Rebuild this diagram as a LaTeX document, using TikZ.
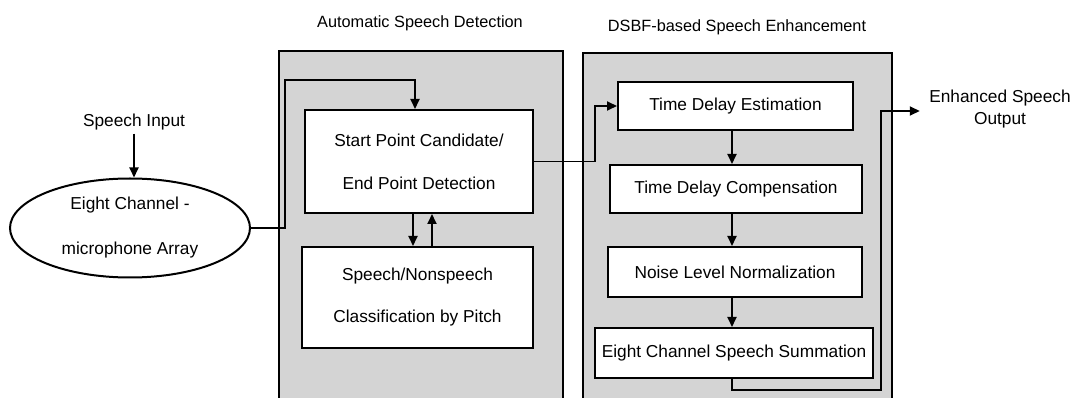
\documentclass[tikz,border=0pt]{standalone}
\usepackage{fontspec}
\setmainfont{Liberation Sans}
\usetikzlibrary{arrows.meta,shapes.geometric}
\begin{document}
\begin{tikzpicture}[x=1pt,y=-1pt,
  panel/.style={draw=black,line width=2pt,fill=black!17,inner sep=0pt,anchor=north west},
  blk/.style={draw=black,line width=2pt,fill=white,inner sep=0pt,align=center,font=\fontsize{17.3}{19}\selectfont},
  txt/.style={align=center,font=\fontsize{17.3}{22}\selectfont},
  ttl/.style={font=\fontsize{16.3}{18}\selectfont},
  conn/.style={line width=1.8pt,-{Triangle[length=10pt,width=9pt]}},
  wire/.style={line width=1.8pt}]
\clip (0,0) rectangle (1077,398);
\fill[white] (0,0) rectangle (1077,398);
\coordinate (xd) at (413,0);
\coordinate (xu) at (432,0);
\coordinate (xr) at (732,0);
% panels
\node[panel,minimum width=284pt,minimum height=370pt] (asd) at (278,50) {};
\node[panel,minimum width=309pt,minimum height=370pt] (dsbf) at (582,52) {};
\node[ttl] (asdt) at (420,23) {Automatic Speech Detection};
\node[ttl] (dsbft) at (737,27) {DSBF-based Speech Enhancement};
% left side
\node[txt] (si) at (134,122) {Speech Input};
\node[draw=black,line width=2pt,fill=white,ellipse,minimum width=240pt,minimum height=99pt,inner sep=0pt,align=center,font=\fontsize{17.3}{19}\selectfont] (mic) at (130,228) {Eight Channel -\\[26pt]microphone Array};
% ASD blocks
\node[blk,minimum width=228pt,minimum height=103pt] (sp) at (419,161.5) {Start Point Candidate/\\[24pt]End Point Detection};
\node[blk,minimum width=231pt,minimum height=101pt] (cl) at (417.5,297.5) {Speech/Nonspeech\\[23pt]Classification by Pitch};
% DSBF blocks
\node[blk,minimum width=235pt,minimum height=48pt] (tde) at (735.5,106) {Time Delay Estimation};
\node[blk,minimum width=252pt,minimum height=48pt] (tdc) at (736,189) {Time Delay Compensation};
\node[blk,minimum width=254pt,minimum height=50pt] (nln) at (735,272) {Noise Level Normalization};
\node[blk,minimum width=278pt,minimum height=50pt] (ecs) at (734,353) {Eight Channel Speech Summation};
% output
\node[txt] (out) at (1000,109) {Enhanced Speech\\Output};
% connectors
\draw[conn] (si.south) -- (si.south |- mic.north);
\draw[conn] (mic.east) -- (285,228) -- (285,80) -| ([xshift=-4pt]sp.north);
\draw[conn] (sp.south -| xd) -- (cl.north -| xd);
\draw[conn] (cl.north -| xu) -- (sp.south -| xu);
\draw[conn] (sp.east) -- (595,161.5) |- (tde.west);
\draw[conn] (tde.south -| xr) -- (tdc.north -| xr);
\draw[conn] (tdc.south -| xr) -- (nln.north -| xr);
\draw[conn] (nln.south -| xr) -- (ecs.north -| xr);
\draw[conn] (ecs.south -| xr) -- (732,390) -- (881,390) |- ([xshift=-6pt,yshift=-2pt]out.west);
\end{tikzpicture}
\end{document}
